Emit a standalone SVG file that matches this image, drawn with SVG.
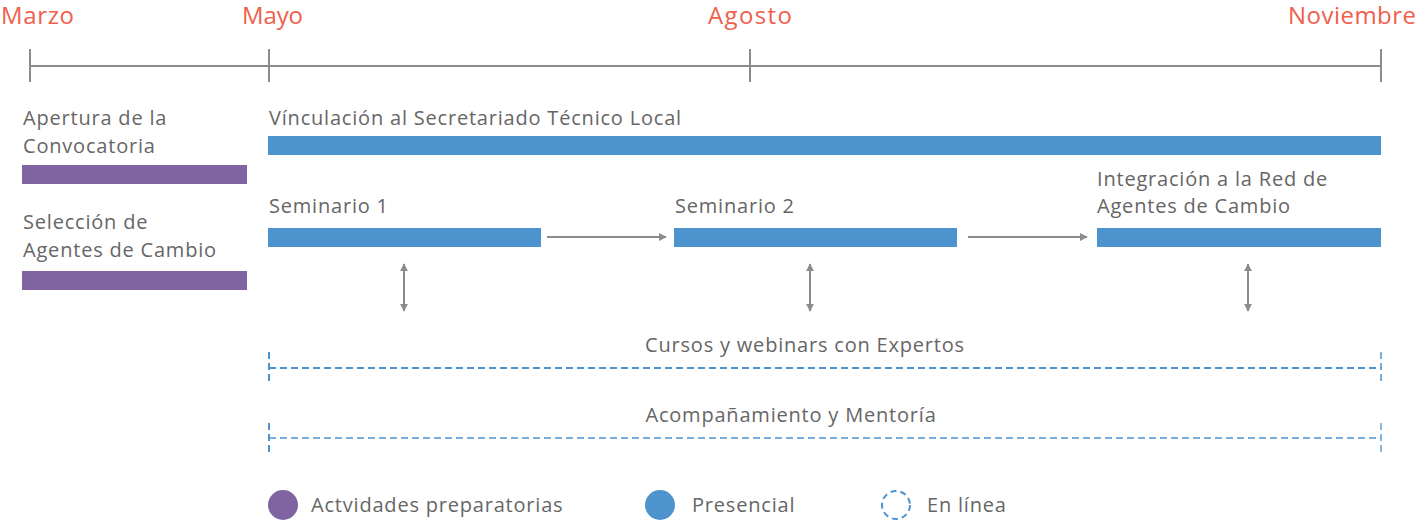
<svg xmlns="http://www.w3.org/2000/svg" width="1418" height="522" viewBox="0 0 1418 522">
<defs>
<style>
.month{font-family:"Open Sans","Liberation Sans",sans-serif;font-size:24px;fill:#F0604D;}
.lbl{font-family:"Open Sans","Liberation Sans",sans-serif;font-size:20px;fill:#666666;letter-spacing:0.8px;}
.axis{stroke:#8C8C8C;stroke-width:2;fill:none;}
.prep{fill:#8064A2;}
.pres{fill:#4D94CE;}
.conn{stroke:#8C8C8C;stroke-width:2;fill:none;}
.dash{stroke:#4D94CE;fill:none;stroke-dasharray:7 4;}
</style>
<marker id="ah" viewBox="0 0 10 10" refX="9" refY="5" markerWidth="4" markerHeight="4" orient="auto-start-reverse" markerUnits="strokeWidth">
<path d="M0,0 L10,5 L0,10 z" fill="#8C8C8C"/>
</marker>
</defs>
<rect width="1418" height="522" fill="#ffffff"/>
<g id="timeline">
<line class="axis" x1="30" y1="66" x2="1381" y2="66"/>
<line class="axis" x1="30" y1="49" x2="30" y2="82"/>
<line class="axis" x1="269" y1="49" x2="269" y2="82"/>
<line class="axis" x1="750" y1="49" x2="750" y2="82"/>
<line class="axis" x1="1381" y1="49" x2="1381" y2="82"/>
<text class="month" x="1" y="24" textLength="73" lengthAdjust="spacing">Marzo</text>
<text class="month" x="242" y="24" textLength="61" lengthAdjust="spacing">Mayo</text>
<text class="month" x="708" y="24" textLength="84" lengthAdjust="spacing">Agosto</text>
<text class="month" x="1288" y="24" textLength="128" lengthAdjust="spacing">Noviembre</text>
</g>
<g id="apertura">
<text class="lbl" x="23" y="125">Apertura de la</text>
<text class="lbl" x="23" y="153">Convocatoria</text>
<rect class="prep" x="22" y="165" width="225" height="19"/>
</g>
<g id="seleccion">
<text class="lbl" x="23" y="229">Selección de</text>
<text class="lbl" x="23" y="257">Agentes de Cambio</text>
<rect class="prep" x="22" y="271" width="225" height="19"/>
</g>
<g id="vinculacion">
<text class="lbl" x="269" y="125">Vínculación al Secretariado Técnico Local</text>
<rect class="pres" x="268" y="136" width="1113" height="19"/>
</g>
<g id="seminario1">
<text class="lbl" x="269" y="213">Seminario 1</text>
<rect class="pres" x="268" y="228" width="273" height="19"/>
</g>
<g id="seminario2">
<text class="lbl" x="675" y="213">Seminario 2</text>
<rect class="pres" x="674" y="228" width="283" height="19"/>
</g>
<g id="integracion">
<text class="lbl" x="1097" y="186">Integración a la Red de</text>
<text class="lbl" x="1097" y="213">Agentes de Cambio</text>
<rect class="pres" x="1097" y="228" width="284" height="19"/>
</g>
<g id="cursos">
<text class="lbl" x="805" y="352" text-anchor="middle">Cursos y webinars con Expertos</text>
<line class="dash" x1="269" y1="368" x2="1381" y2="368" stroke-width="2"/>
<line class="dash" x1="269" y1="352" x2="269" y2="384" stroke-width="2"/>
<line class="dash" x1="1381" y1="352" x2="1381" y2="384" stroke-width="1.5"/>
</g>
<g id="acompanamiento">
<text class="lbl" x="791" y="422" text-anchor="middle">Acompañamiento y Mentoría</text>
<line class="dash" x1="269" y1="438" x2="1381" y2="438" stroke-width="1.3"/>
<line class="dash" x1="269" y1="423" x2="269" y2="455" stroke-width="2"/>
<line class="dash" x1="1381" y1="423" x2="1381" y2="455" stroke-width="1.3"/>
</g>
<g id="connectors">
<line class="conn" x1="547" y1="237" x2="666" y2="237" marker-end="url(#ah)"/>
<line class="conn" x1="968" y1="237" x2="1087" y2="237" marker-end="url(#ah)"/>
<line class="conn" x1="404" y1="264" x2="404" y2="311" marker-start="url(#ah)" marker-end="url(#ah)"/>
<line class="conn" x1="810" y1="264" x2="810" y2="311" marker-start="url(#ah)" marker-end="url(#ah)"/>
<line class="conn" x1="1248" y1="264" x2="1248" y2="311" marker-start="url(#ah)" marker-end="url(#ah)"/>
</g>
<g id="legend">
<circle class="prep" cx="283" cy="505" r="15"/>
<text class="lbl" x="311" y="512">Actvidades preparatorias</text>
<circle class="pres" cx="660" cy="505" r="15"/>
<text class="lbl" x="692" y="512">Presencial</text>
<circle cx="896" cy="505" r="14" fill="none" stroke="#4D94CE" stroke-width="2" stroke-dasharray="6 4"/>
<text class="lbl" x="927" y="512">En línea</text>
</g>
</svg>
